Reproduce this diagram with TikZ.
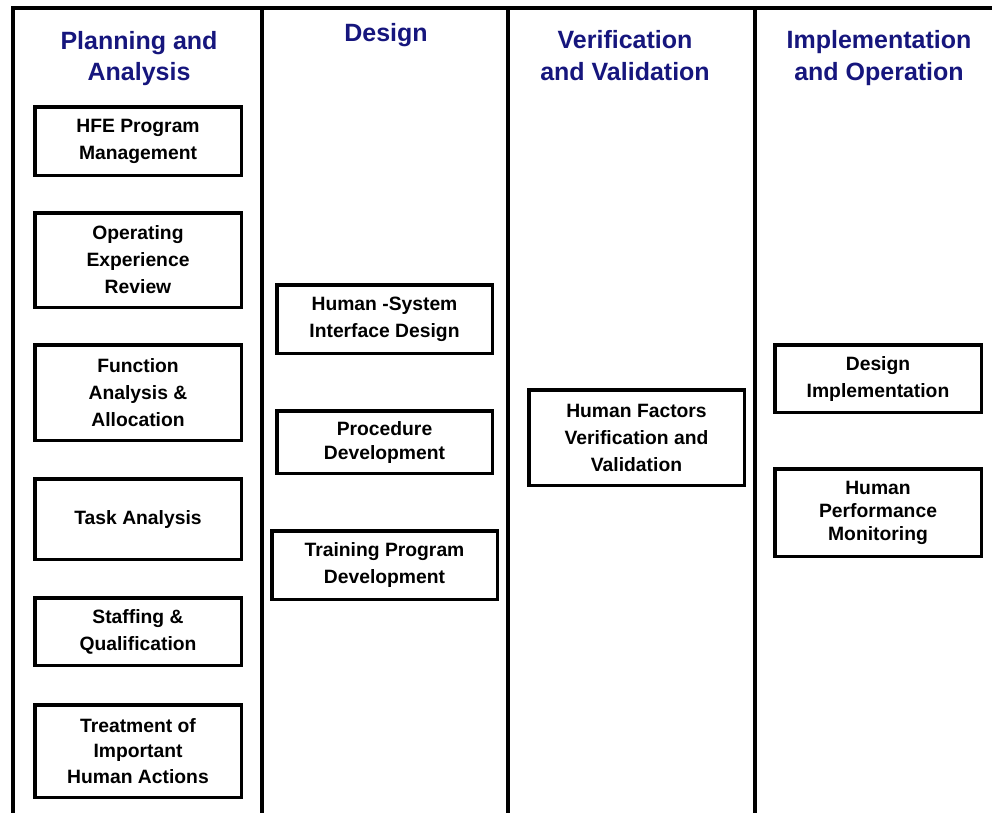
\documentclass[tikz,border=0pt]{standalone}
\usepackage{fontspec}
\setmainfont{Liberation Sans}
\definecolor{hdrblue}{RGB}{22,22,125}
\begin{document}
\begin{tikzpicture}[x=1pt,y=-1pt,
  box/.style={draw=black, line width=3.5pt, align=center, inner sep=0pt,
    font=\bfseries\fontsize{19.3}{27}\selectfont},
  tight/.style={font=\bfseries\fontsize{19.3}{#1}\selectfont},
  hdr/.style={text=hdrblue, align=center, inner sep=0pt,
    font=\bfseries\fontsize{25}{31.5}\selectfont},
  frameline/.style={line width=3.5pt}]
\useasboundingbox (0,0) rectangle (992,812);
\clip (0,0) rectangle (992,812);
% frame
\draw[frameline] (13,816) -- (13,8) -- (996,8);
\draw[frameline] (262,8) -- (262,816);
\draw[frameline] (508,8) -- (508,816);
\draw[frameline] (755,8) -- (755,816);
% headers
\node[hdr] (hpa) at (139,58.5) {Planning and\\Analysis};
\node[hdr] (hde) at (386,35) {Design};
\node[hdr] (hvv) at (625,55.5) {Verification\\and Validation};
\node[hdr] (hio) at (879,58) {Implementation\\and Operation};
% planning and analysis
\node[box, minimum width=206.5pt, minimum height=68.5pt] (hfe) at (138,141) {HFE Program\\Management};
\node[box, minimum width=206.5pt, minimum height=94.5pt] (oer) at (138,260) {Operating\\Experience\\Review};
\node[box, minimum width=206.5pt, minimum height=95.5pt] (faa) at (138,392.5) {Function\\Analysis \&\\Allocation};
\node[box, minimum width=206.5pt, minimum height=80.5pt] (ta) at (138,519) {Task Analysis};
\node[box, minimum width=206.5pt, minimum height=67.5pt] (sq) at (138,631.5) {Staffing \&\\Qualification};
\node[box, tight=25.5, minimum width=206.5pt, minimum height=92.5pt] (tia) at (138,751) {Treatment of\\Important\\Human Actions};
% design
\node[box, minimum width=215.5pt, minimum height=68.5pt] (hsi) at (384.5,319) {Human -System\\Interface Design};
\node[box, tight=24, minimum width=215.5pt, minimum height=62.5pt] (pd) at (384.5,442) {Procedure\\Development};
\node[box, minimum width=225.5pt, minimum height=68.5pt] (tpd) at (384.5,565) {Training Program\\Development};
% verification and validation
\node[box, minimum width=215.5pt, minimum height=95.5pt] (vv) at (636.5,437.5) {Human Factors\\Verification and\\Validation};
% implementation and operation
\node[box, minimum width=206.5pt, minimum height=67.5pt] (di) at (878,378.5) {Design\\Implementation};
\node[box, tight=23, minimum width=206.5pt, minimum height=87.5pt] (hpm) at (878,512.5) {Human\\Performance\\Monitoring};
\end{tikzpicture}
\end{document}
